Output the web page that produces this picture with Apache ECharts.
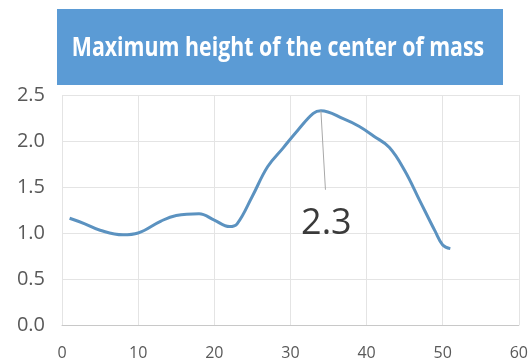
<!DOCTYPE html>
<html>
<head>
<meta charset="utf-8">
<script src="https://cdn.jsdelivr.net/npm/echarts@6/dist/echarts.min.js"></script>
<style>
  html, body { margin: 0; padding: 0; background: #fff; }
  #chart { width: 531px; height: 361px; }
</style>
</head>
<body>
<div id="chart"></div>
<script>
const titleText = 'Maximum height of the center of mass';
const xValues = [1, 3, 5, 8, 10, 13, 15, 18, 20, 22, 23, 25, 27, 29, 31, 33, 34, 37, 39, 41, 43, 45, 47, 49, 50, 51];
const yValues = [1.16, 1.10, 1.03, 0.98, 1.00, 1.13, 1.19, 1.21, 1.14, 1.07, 1.10, 1.40, 1.72, 1.92, 2.12, 2.30, 2.33, 2.24, 2.16, 2.05, 1.93, 1.68, 1.35, 1.02, 0.87, 0.83];
const peakIndex = 16;
const peakLabel = '2.3';
// where the callout's leader line ends, in data units
const calloutEnd = [34.6, 1.47];

const chart = echarts.init(document.getElementById('chart'));

const seriesData = xValues.map((x, i) => [x, yValues[i]]);

chart.setOption({
  animation: false,
  graphic: [
    {
      type: 'rect',
      left: 57,
      top: 9,
      shape: { width: 446, height: 76 },
      style: { fill: '#5b9bd5' }
    },
    {
      type: 'text',
      x: 278,
      y: 48,
      scaleX: 0.79,
      style: {
        text: titleText,
        fill: '#fff',
        font: 'bold 27px "Open Sans"',
        align: 'center',
        verticalAlign: 'middle'
      }
    }
  ],
  grid: { left: 62, right: 11, top: 95, bottom: 36 },
  xAxis: {
    type: 'value',
    min: 0,
    max: 60,
    interval: 10,
    axisLine: { show: true, lineStyle: { color: '#c8c8c8' } },
    axisTick: { show: false },
    axisLabel: { color: '#595959', fontFamily: 'Open Sans', fontSize: 16, margin: 20 },
    splitLine: { show: true, lineStyle: { color: '#e4e4e4' } }
  },
  yAxis: {
    type: 'value',
    min: 0,
    max: 2.5,
    interval: 0.5,
    axisLine: { show: false },
    axisTick: { show: false },
    axisLabel: {
      color: '#595959',
      fontFamily: 'Open Sans',
      fontSize: 20,
      margin: 17,
      formatter: v => v.toFixed(1)
    },
    splitLine: { show: true, lineStyle: { color: '#e4e4e4' } }
  },
  series: [
    {
      type: 'line',
      data: seriesData,
      smooth: 0.4,
      symbol: 'none',
      lineStyle: { color: '#5b92c0', width: 3 },
      markLine: {
        silent: true,
        symbol: ['none', 'none'],
        lineStyle: { color: '#a8a8a8', width: 1, type: 'solid' },
        label: {
          show: true,
          position: 'end',
          distance: 16,
          formatter: peakLabel,
          fontFamily: 'Open Sans',
          fontSize: 36,
          color: '#3a3a3a'
        },
        data: [[
          { coord: seriesData[peakIndex] },
          { coord: calloutEnd }
        ]]
      }
    }
  ]
});
</script>
</body>
</html>
